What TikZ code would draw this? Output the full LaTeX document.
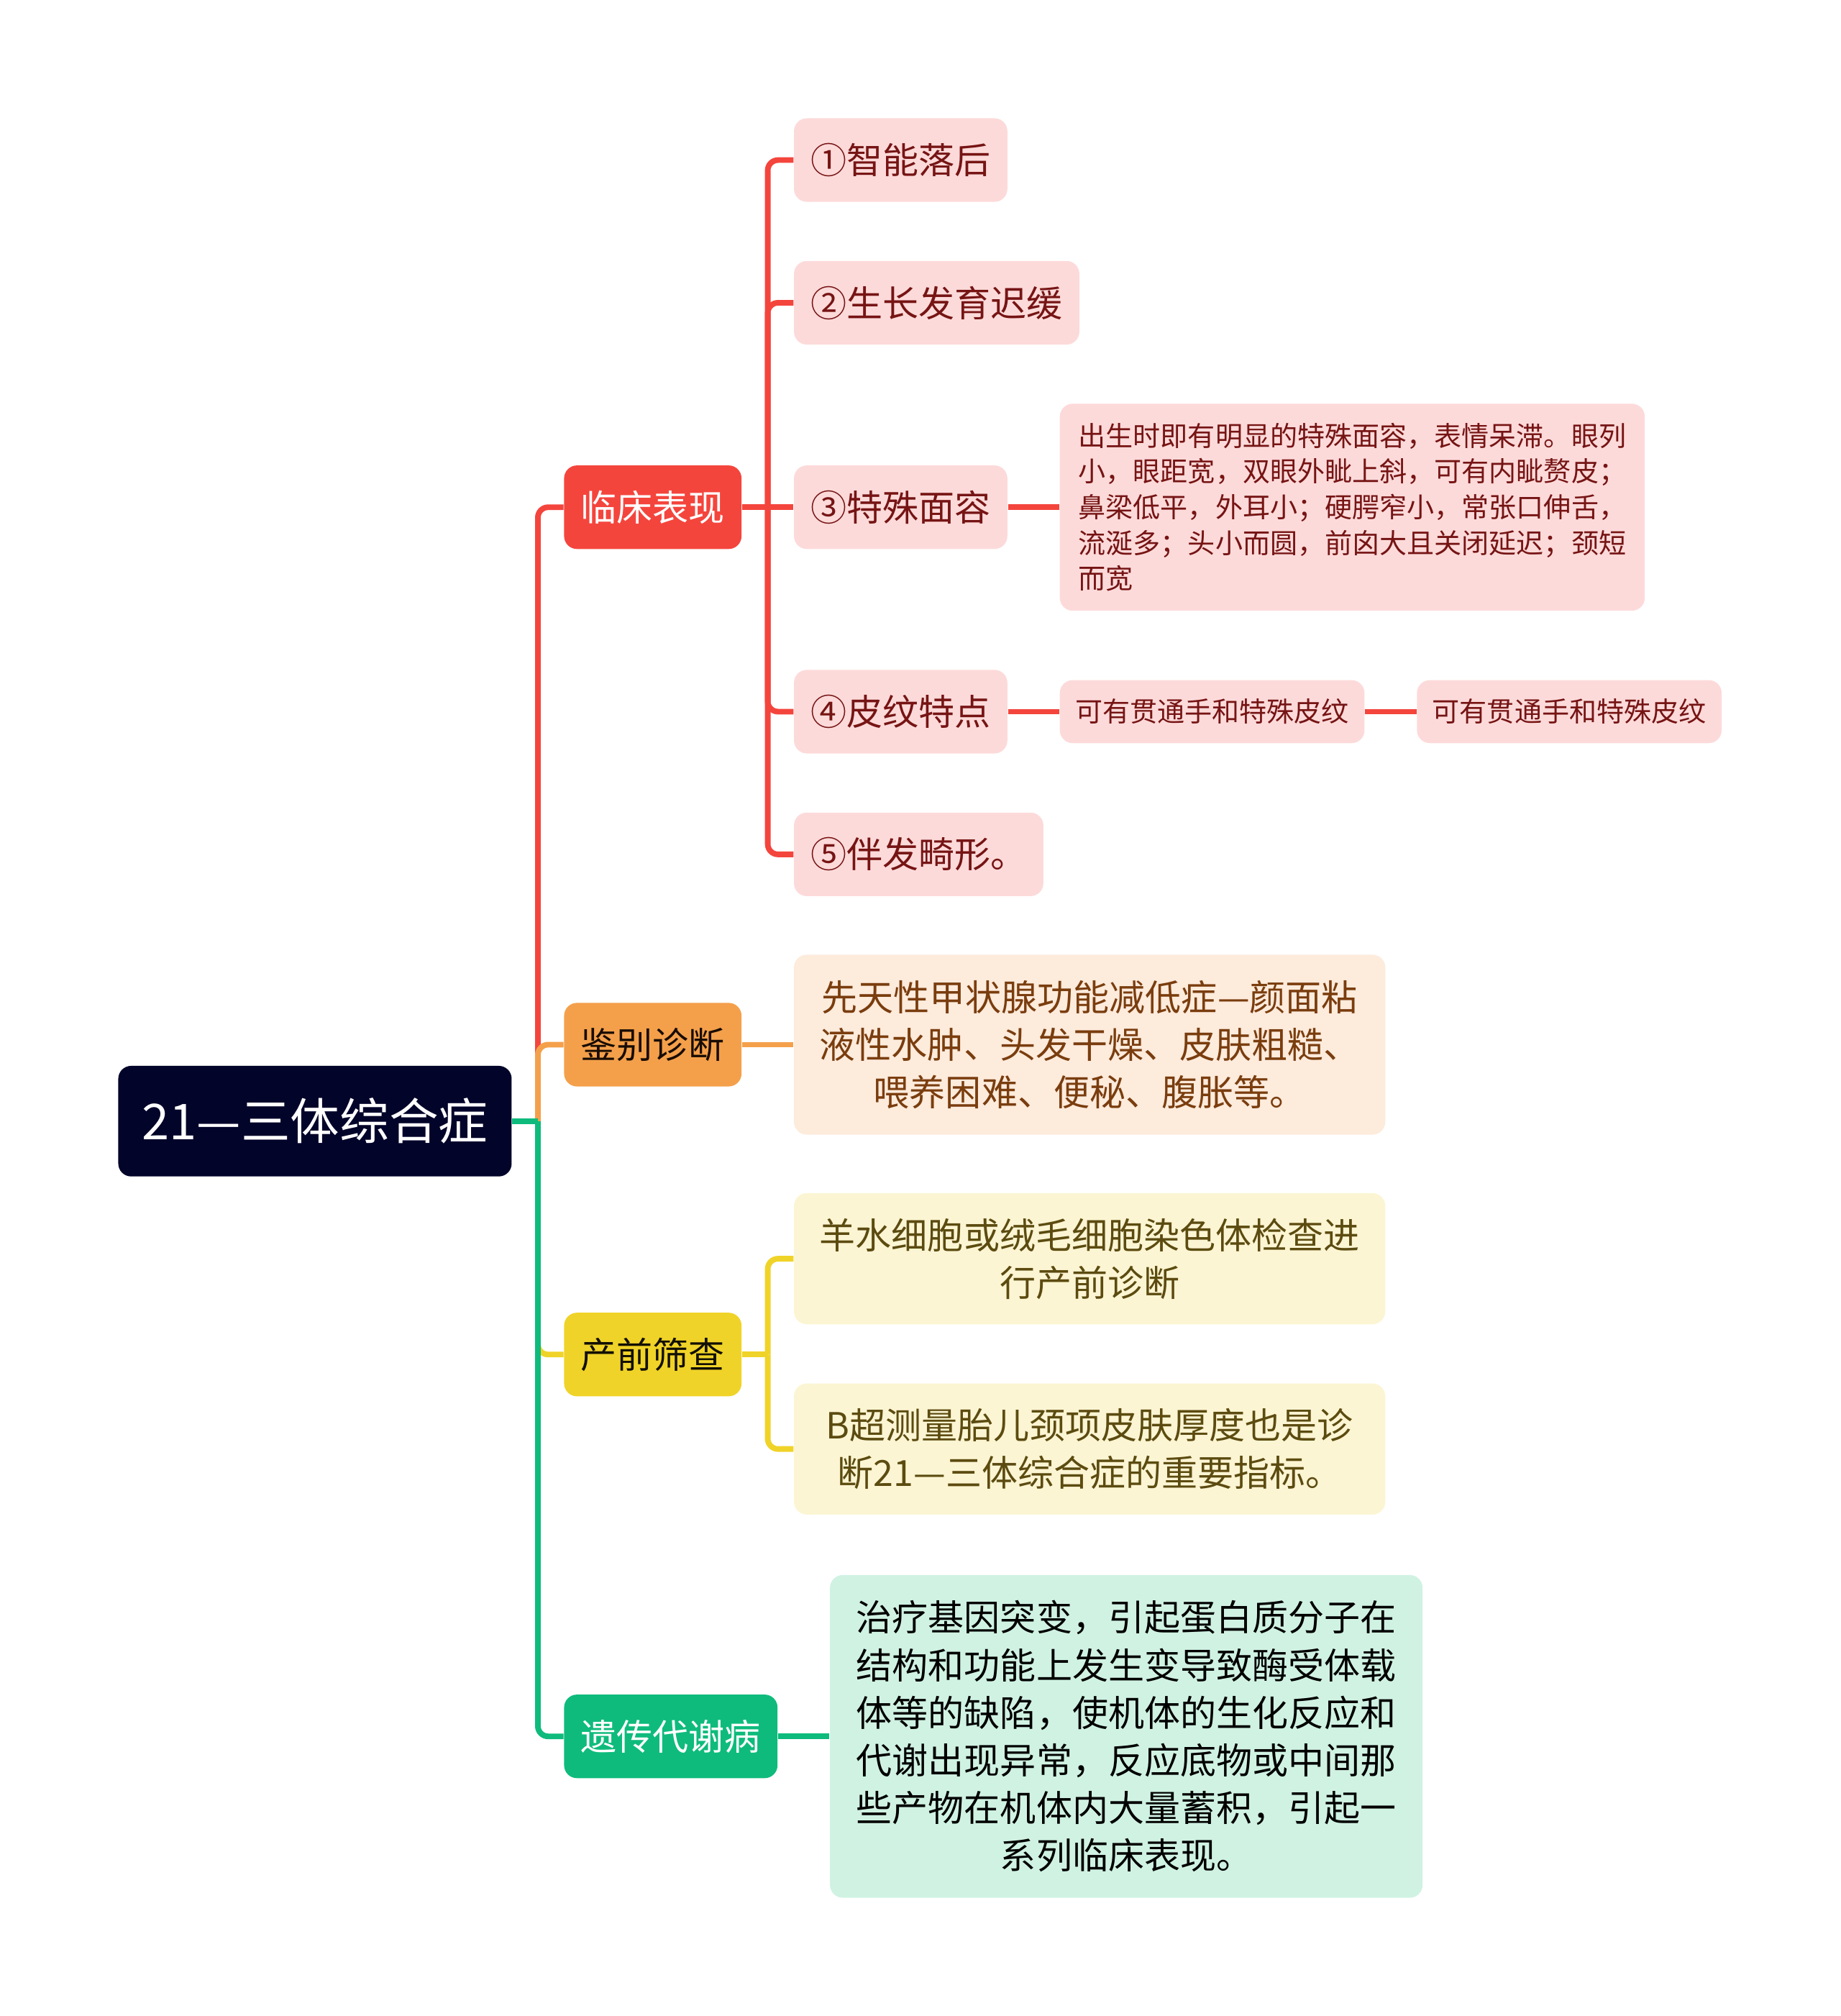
\documentclass[tikz,border=0pt]{standalone}
\usepackage{fontspec}
\setmainfont{Noto Sans CJK SC}
\usetikzlibrary{positioning}

\definecolor{rootNavy}{HTML}{03042A}
\definecolor{clinRed}{HTML}{F4453D}
\definecolor{clinPink}{HTML}{FDDADA}
\definecolor{clinText}{HTML}{761414}
\definecolor{diffOrange}{HTML}{F4A04B}
\definecolor{diffPeach}{HTML}{FDEBDC}
\definecolor{diffText}{HTML}{7A3D0E}
\definecolor{scrYellow}{HTML}{F0D328}
\definecolor{scrCream}{HTML}{FCF5D3}
\definecolor{scrText}{HTML}{5C4B10}
\definecolor{genGreen}{HTML}{0EBB7C}
\definecolor{genMint}{HTML}{D0F2E3}

\begin{document}
\begin{tikzpicture}[
    node distance=20pt,
    every node/.style={font=\fontsize{14pt}{18.5pt}\selectfont, rounded corners=5pt, align=center, inner ysep=0pt},
    central/.style={fill=rootNavy, text=white, minimum width=153pt, minimum height=43pt, font=\fontsize{19.2pt}{22pt}\selectfont},
    branch/.style={minimum height=32.5pt, inner xsep=6.5pt},
    leaf/.style={fill=clinPink, text=clinText, minimum height=32.5pt, inner xsep=6.5pt},
    detail/.style={fill=clinPink, text=clinText, inner xsep=6pt, font=\fontsize{10.65pt}{13.9pt}\selectfont},
    note/.style={minimum width=230pt},
    link/.style={line width=2.2pt, rounded corners=4pt}
]
\useasboundingbox (0,0) rectangle (716pt,-784pt);

% centre and main branches
\node[central] (root) at (122.5pt,-436pt) {21—三体综合症};
\node[branch, fill=clinRed, text=white, right=of root, yshift=238.75pt] (clin) {临床表现};
\node[branch, fill=diffOrange, text=black!80!diffText, right=of root, yshift=29.75pt] (diff) {鉴别诊断};
\node[branch, fill=scrYellow, text=black!80!scrText, right=of root, yshift=-90.75pt] (scr) {产前筛查};
\node[branch, fill=genGreen, text=white, right=of root, yshift=-239.25pt] (gen) {遗传代谢病};

% clinical signs
\node[leaf, right=of clin, yshift=135pt] (sign1) {①智能落后};
\node[leaf, right=of clin, yshift=79.5pt] (sign2) {②生长发育迟缓};
\node[leaf, right=of clin] (sign3) {③特殊面容};
\node[leaf, right=of clin, yshift=-79.5pt] (sign4) {④皮纹特点};
\node[leaf, right=of clin, yshift=-135pt] (sign5) {⑤伴发畸形。};
\node[detail, right=of sign3, align=left, minimum width=227.5pt, minimum height=80.5pt] (face) {出生时即有明显的特殊面容，表情呆滞。眼列\\小，眼距宽，双眼外眦上斜，可有内眦赘皮；\\鼻梁低平，外耳小；硬腭窄小，常张口伸舌，\\流涎多；头小而圆，前囟大且关闭延迟；颈短\\而宽};
\node[detail, right=of sign4, minimum height=24.5pt] (palm) {可有贯通手和特殊皮纹};
\node[detail, right=of palm, minimum height=24.5pt] (palm2) {可有贯通手和特殊皮纹};

% other branches
\node[note, fill=diffPeach, text=diffText, minimum height=70pt, right=of diff] (hypo) {先天性甲状腺功能减低症—颜面粘\\液性水肿、头发干燥、皮肤粗糙、\\喂养困难、便秘、腹胀等。};
\node[note, fill=scrCream, text=scrText, minimum height=51pt, right=of scr, yshift=37.25pt] (amnio) {羊水细胞或绒毛细胞染色体检查进\\行产前诊断};
\node[note, fill=scrCream, text=scrText, minimum height=51pt, right=of scr, yshift=-36.75pt] (bscan) {B超测量胎儿颈项皮肤厚度也是诊\\断21—三体综合症的重要指标。};
\node[note, fill=genMint, text=black, minimum width=230.5pt, minimum height=125.5pt, right=of gen] (meta) {治疗基因突变，引起蛋白质分子在\\结构和功能上发生变导致酶受体载\\体等的缺陷，使机体的生化反应和\\代谢出现异常，反应底物或中间那\\些产物在机体内大量蓄积，引起一\\系列临床表现。};

\coordinate[right=10pt of root] (rj);
\coordinate[right=10pt of clin] (cj);
\coordinate[right=10pt of scr] (sj);

\draw[link, clinRed] (rj) |- (clin.west);
\draw[link, diffOrange] (rj) |- (diff.west);
\draw[link, scrYellow] (rj) |- (scr.west);
\draw[link, genGreen] (rj) |- (gen.west);
\draw[link, genGreen] (root.east) -- (rj);

\draw[link, clinRed] (clin.east) -- (sign3.west);
\foreach \s in {sign1,sign2,sign4,sign5}
    \draw[link, clinRed] (cj) |- (\s.west);
\draw[link, clinRed] (sign3.east) -- (face.west);
\draw[link, clinRed] (sign4.east) -- (palm.west);
\draw[link, clinRed] (palm.east) -- (palm2.west);

\draw[link, diffOrange] (diff.east) -- (hypo.west);
\draw[link, scrYellow] (scr.east) -- (sj);
\draw[link, scrYellow] (sj) |- (amnio.west);
\draw[link, scrYellow] (sj) |- (bscan.west);
\draw[link, genGreen] (gen.east) -- (meta.west);
\end{tikzpicture}
\end{document}
